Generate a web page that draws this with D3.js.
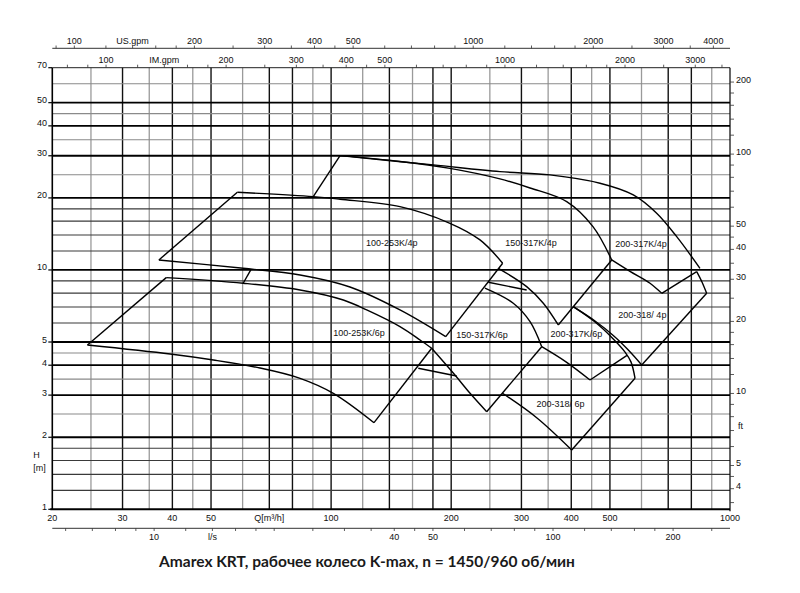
<!DOCTYPE html>
<html lang="en">
<head>
<meta charset="UTF-8">
<title>Amarex KRT</title>
<style>
    body, html {
        margin: 0;
        padding: 0;
        background: #fff;
        overflow: hidden;
    }
    svg { display: block; }
    text {
        font-family: "Liberation Sans", Arial, sans-serif;
        font-size: 9px;
        fill: #111;
    }
</style>
</head>
<body>
<script src="https://d3js.org/d3.v7.min.js"></script>
<script>
// ---- axis values ----
var qLabels = [20, 30, 40, 50, 100, 200, 300, 400, 500, 1000];
var hLabels = [1, 2, 3, 4, 5, 10, 20, 30, 40, 50, 70];
var ftLabels = [4, 5, 10, 20, 30, 40, 50, 100, 200];
var usLabels = [100, 200, 300, 400, 500, 1000, 2000, 3000, 4000];
var imLabels = [100, 200, 300, 400, 500, 1000, 2000, 3000];
var lsLabels = [10, 40, 50, 100, 200];
var logSteps = [1, 1.2, 1.4, 1.6, 1.8, 2, 2.5, 3, 3.5, 4, 4.5, 5, 6, 7, 8, 9];

// grid line classes
var qDark = [30, 40, 50, 70, 80, 100, 140, 180, 200, 300, 400, 500, 700, 800];
var hMajor = [1, 2, 3, 4, 5, 10, 20, 30, 40, 50];
var hLight = [2.5, 3.5, 4.5, 25, 35, 45, 60];

// ---- pump curves, [Q m3/h, H m] ----
var a4Top    = [[58.2, 21.12], [90.2, 20.25], [105.3, 19.74], [148.8, 18.39], [198.6, 15.67], [236.2, 13.35], [269.2, 10.67]];
var a4Left   = [[58.2, 21.12], [37.0, 11.01]];
var a4Right  = [[269.2, 10.67], [193.8, 5.265]];
var a4Bottom = [[37.0, 11.01], [60.2, 10.16], [83.6, 9.53], [111.5, 8.49], [148.8, 6.81], [193.8, 5.265]];
var a4Link   = [[60.2, 8.80], [62.9, 10.0]];

var a6Top    = [[38.6, 9.29], [60.2, 8.80], [83.6, 8.25], [107.3, 7.49], [122.8, 6.81], [148.8, 5.80], [167.1, 5.10], [178.7, 4.71]];
var a6Left   = [[38.6, 9.29], [24.5, 4.86]];
var a6Right  = [[178.7, 4.71], [128.1, 2.301]];
var a6Bottom = [[24.5, 4.86], [39.5, 4.457], [50.7, 4.207], [66.3, 3.895], [83.6, 3.527], [101.3, 3.053], [128.1, 2.301]];
var a6Link   = [[165.4, 3.884], [206.4, 3.606]];

var b4Left   = [[90.2, 20.25], [105.3, 30.03]];
var outerTop = [[105.3, 30.03], [180.4, 27.47], [265.0, 25.76], [353.8, 24.95], [472.1, 23.03], [572.2, 20.58], [654.9, 17.26], [735.2, 13.78], [840.8, 10.16]];
var b4Top    = [[105.3, 30.03], [148.8, 28.40], [198.6, 26.56], [265.0, 24.01], [315.3, 22.01], [389.6, 19.30], [453.4, 15.17], [505.2, 11.01]];
var b4Right  = [[505.2, 11.01], [371.1, 5.89]];
var b4Bottom = [[262.6, 10.16], [309.2, 8.52], [340.4, 7.26], [371.1, 5.89]];
var b4Link   = [[247.8, 8.88], [309.2, 8.25]];

var b6Top    = [[243.0, 8.39], [286.2, 7.26], [315.3, 6.08], [337.3, 4.78]];
var b6Right  = [[337.3, 4.78], [245.5, 2.558]];
var b6Bottom = [[178.7, 4.71], [204.4, 3.64], [223.0, 3.053], [245.5, 2.558]];

var c4Bottom = [[505.2, 11.01], [561.4, 9.86], [630.2, 8.80], [674.2, 7.99]];
var c4Right  = [[674.2, 7.99], [825.2, 9.84]];
var d4Top    = [[825.2, 9.84], [850.6, 8.91], [874.0, 7.99]];
var d4Right  = [[874.0, 7.99], [600.7, 4.01]];
var d4Bottom = [[404.6, 7.025], [458.8, 6.12], [509.8, 5.325], [556.0, 4.63], [600.7, 4.01]];

var d6Top    = [[404.6, 7.025], [458.8, 6.06], [509.8, 5.15], [545.6, 4.54], [564.6, 4.13], [578.0, 3.527]];
var c6Bottom = [[337.3, 4.78], [388.0, 4.13], [445.7, 3.47]];
var c6Right  = [[445.7, 3.47], [551.8, 4.40]];
var d6Right  = [[578.0, 3.527], [401.0, 1.769]];
var d6Bottom = [[269.0, 3.053], [328.2, 2.408], [401.0, 1.769]];

var pumpNames = ["100-253K/4p", "150-317K/4p", "200-317K/4p", "200-318/ 4p", "100-253K/6p", "150-317K/6p", "200-317K/6p", "200-318/ 6p"];
var pumpLabelQ = [142, 317, 598, 603, 117.4, 239, 412, 375.8];
var pumpLabelH = [12.6, 12.6, 12.48, 6.30, 5.32, 5.22, 5.25, 2.664];

var title = "Amarex KRT, рабочее колесо K-max, n = 1450/960 об/мин";

// ---- unit factors ----
var usGpm = 0.227125, imGpm = 0.272766, lps = 3.6, foot = 0.3048;

var width = 800, height = 593;
var svg = d3.select("body").append("svg")
    .attr("width", width)
    .attr("height", height);

var x = d3.scaleLog().domain([20, 1000]).range([52.3, 730]);
var y = d3.scaleLog().domain([1, 70]).range([509.3, 67.7]);

function stepValues(lo, hi) {
    var out = [];
    for (var e = -1; e <= 4; e++) {
        logSteps.forEach(function(s) {
            var v = +(s * Math.pow(10, e)).toPrecision(3);
            if (v >= lo * 0.999 && v <= hi * 1.001) out.push(v);
        });
    }
    return out;
}

// ---- grid ----
var grid = svg.append("g");
stepValues(20, 1000).forEach(function(q) {
    if (q === 20 || q === 1000) return;
    var dark = qDark.indexOf(q) >= 0;
    grid.append("line")
        .attr("x1", x(q)).attr("x2", x(q))
        .attr("y1", y(70)).attr("y2", y(1))
        .attr("stroke", dark ? "#111" : "#9a9a9a")
        .attr("stroke-width", dark ? 1.4 : 1.3);
});
stepValues(1, 70).forEach(function(h) {
    if (h === 1 || h === 70) return;
    var major = hMajor.indexOf(h) >= 0, light = hLight.indexOf(h) >= 0;
    grid.append("line")
        .attr("x1", x(20)).attr("x2", x(1000))
        .attr("y1", y(h)).attr("y2", y(h))
        .attr("stroke", major ? "#000" : (light ? "#8a8a8a" : "#3a3a3a"))
        .attr("stroke-width", major ? 1.8 : 1.1);
});

// frame
svg.append("line").attr("x1", x(20)).attr("x2", x(1000)).attr("y1", y(70)).attr("y2", y(70))
    .attr("stroke", "#222").attr("stroke-width", 1);
svg.append("line").attr("x1", x(20) - 2).attr("x2", x(1000)).attr("y1", y(1)).attr("y2", y(1))
    .attr("stroke", "#000").attr("stroke-width", 2);
svg.append("line").attr("x1", x(20)).attr("x2", x(20)).attr("y1", y(70)).attr("y2", y(1))
    .attr("stroke", "#000").attr("stroke-width", 1.6);
svg.append("line").attr("x1", x(1000)).attr("x2", x(1000)).attr("y1", y(70)).attr("y2", y(1) + 2)
    .attr("stroke", "#000").attr("stroke-width", 1.2);

// left ticks and labels
hLabels.forEach(function(h) {
    svg.append("line").attr("x1", x(20) - 4).attr("x2", x(20)).attr("y1", y(h)).attr("y2", y(h))
        .attr("stroke", "#000").attr("stroke-width", 1.2);
    svg.append("text").attr("x", 47).attr("y", y(h) + 0.5)
        .attr("text-anchor", "end").text(h);
});
svg.append("text").attr("x", 36.5).attr("y", 457.5).attr("text-anchor", "middle").text("H");
svg.append("text").attr("x", 39.5).attr("y", 471).attr("text-anchor", "middle").text("[m]");

// bottom labels
qLabels.forEach(function(q) {
    svg.append("text").attr("x", x(q)).attr("y", 521).attr("text-anchor", "middle").text(q);
});
svg.append("text").attr("x", x(70)).attr("y", 521).attr("text-anchor", "middle").text("Q[m³/h]");

// l/s ruler
svg.append("line").attr("x1", x(20)).attr("x2", x(1000)).attr("y1", 528.3).attr("y2", 528.3)
    .attr("stroke", "#333").attr("stroke-width", 1);
stepValues(20 / lps, 1000 / lps).forEach(function(v) {
    svg.append("line").attr("x1", x(v * lps)).attr("x2", x(v * lps)).attr("y1", 528.3).attr("y2", 531)
        .attr("stroke", "#333").attr("stroke-width", 0.8);
});
lsLabels.forEach(function(v) {
    svg.append("text").attr("x", x(v * lps)).attr("y", 540).attr("text-anchor", "middle").text(v);
});
svg.append("text").attr("x", x(14 * lps)).attr("y", 540).attr("text-anchor", "middle").text("l/s");

// US gpm ruler
svg.append("line").attr("x1", x(20)).attr("x2", x(1000)).attr("y1", 48.3).attr("y2", 48.3)
    .attr("stroke", "#333").attr("stroke-width", 1);
stepValues(20 / usGpm, 1000 / usGpm).forEach(function(v) {
    svg.append("line").attr("x1", x(v * usGpm)).attr("x2", x(v * usGpm)).attr("y1", 45.5).attr("y2", 48.3)
        .attr("stroke", "#333").attr("stroke-width", 0.8);
});
usLabels.forEach(function(v) {
    svg.append("text").attr("x", x(v * usGpm)).attr("y", 43.5).attr("text-anchor", "middle").text(v);
});
svg.append("text").attr("x", x(140 * usGpm)).attr("y", 43.5).attr("text-anchor", "middle").text("US.gpm");

// IM gpm ruler on top frame
stepValues(20 / imGpm, 1000 / imGpm).forEach(function(v) {
    svg.append("line").attr("x1", x(v * imGpm)).attr("x2", x(v * imGpm)).attr("y1", y(70) - 3).attr("y2", y(70))
        .attr("stroke", "#333").attr("stroke-width", 0.8);
});
imLabels.forEach(function(v) {
    svg.append("text").attr("x", x(v * imGpm)).attr("y", 63).attr("text-anchor", "middle").text(v);
});
svg.append("text").attr("x", x(140 * imGpm)).attr("y", 63).attr("text-anchor", "middle").text("IM.gpm");

// right ft axis
stepValues(1 / foot, 70 / foot).forEach(function(v) {
    svg.append("line").attr("x1", x(1000)).attr("x2", x(1000) + 4)
        .attr("y1", y(v * foot)).attr("y2", y(v * foot))
        .attr("stroke", "#333").attr("stroke-width", 0.8);
});
ftLabels.forEach(function(v) {
    svg.append("text").attr("x", 736).attr("y", y(v * foot) + 0.5).text(v);
});
svg.append("text").attr("x", 738).attr("y", y(7 * foot) - 2).text("ft");

// ---- pump curves ----
var line = d3.line()
    .x(function(d) { return x(d[0]); })
    .y(function(d) { return y(d[1]); })
    .curve(d3.curveCatmullRom.alpha(0.5));

var pumpLines = [a4Top, a4Left, a4Right, a4Bottom, a4Link,
    a6Top, a6Left, a6Right, a6Bottom, a6Link,
    b4Left, outerTop, b4Top, b4Right, b4Bottom, b4Link,
    b6Top, b6Right, b6Bottom,
    c4Bottom, c4Right, d4Top, d4Right, d4Bottom,
    d6Top, c6Bottom, c6Right, d6Right, d6Bottom];

svg.append("g").selectAll("path")
    .data(pumpLines)
    .enter()
    .append("path")
    .attr("d", line)
    .attr("fill", "none")
    .attr("stroke", "#000")
    .attr("stroke-width", 1.4)
    .attr("stroke-linejoin", "miter");

// pump labels
svg.append("g").selectAll("text")
    .data(pumpNames)
    .enter()
    .append("text")
    .attr("x", function(d, i) { return x(pumpLabelQ[i]); })
    .attr("y", function(d, i) { return y(pumpLabelH[i]); })
    .attr("text-anchor", "middle")
    .text(function(d) { return d; });

// title
svg.append("text")
    .attr("x", 367)
    .attr("y", 567)
    .attr("text-anchor", "middle")
    .style("font-family", "Lato, 'Open Sans', sans-serif")
    .style("font-weight", "bold")
    .style("font-size", "15.5px")
    .style("fill", "#1a1a1a")
    .text(title);
</script>
</body>
</html>
